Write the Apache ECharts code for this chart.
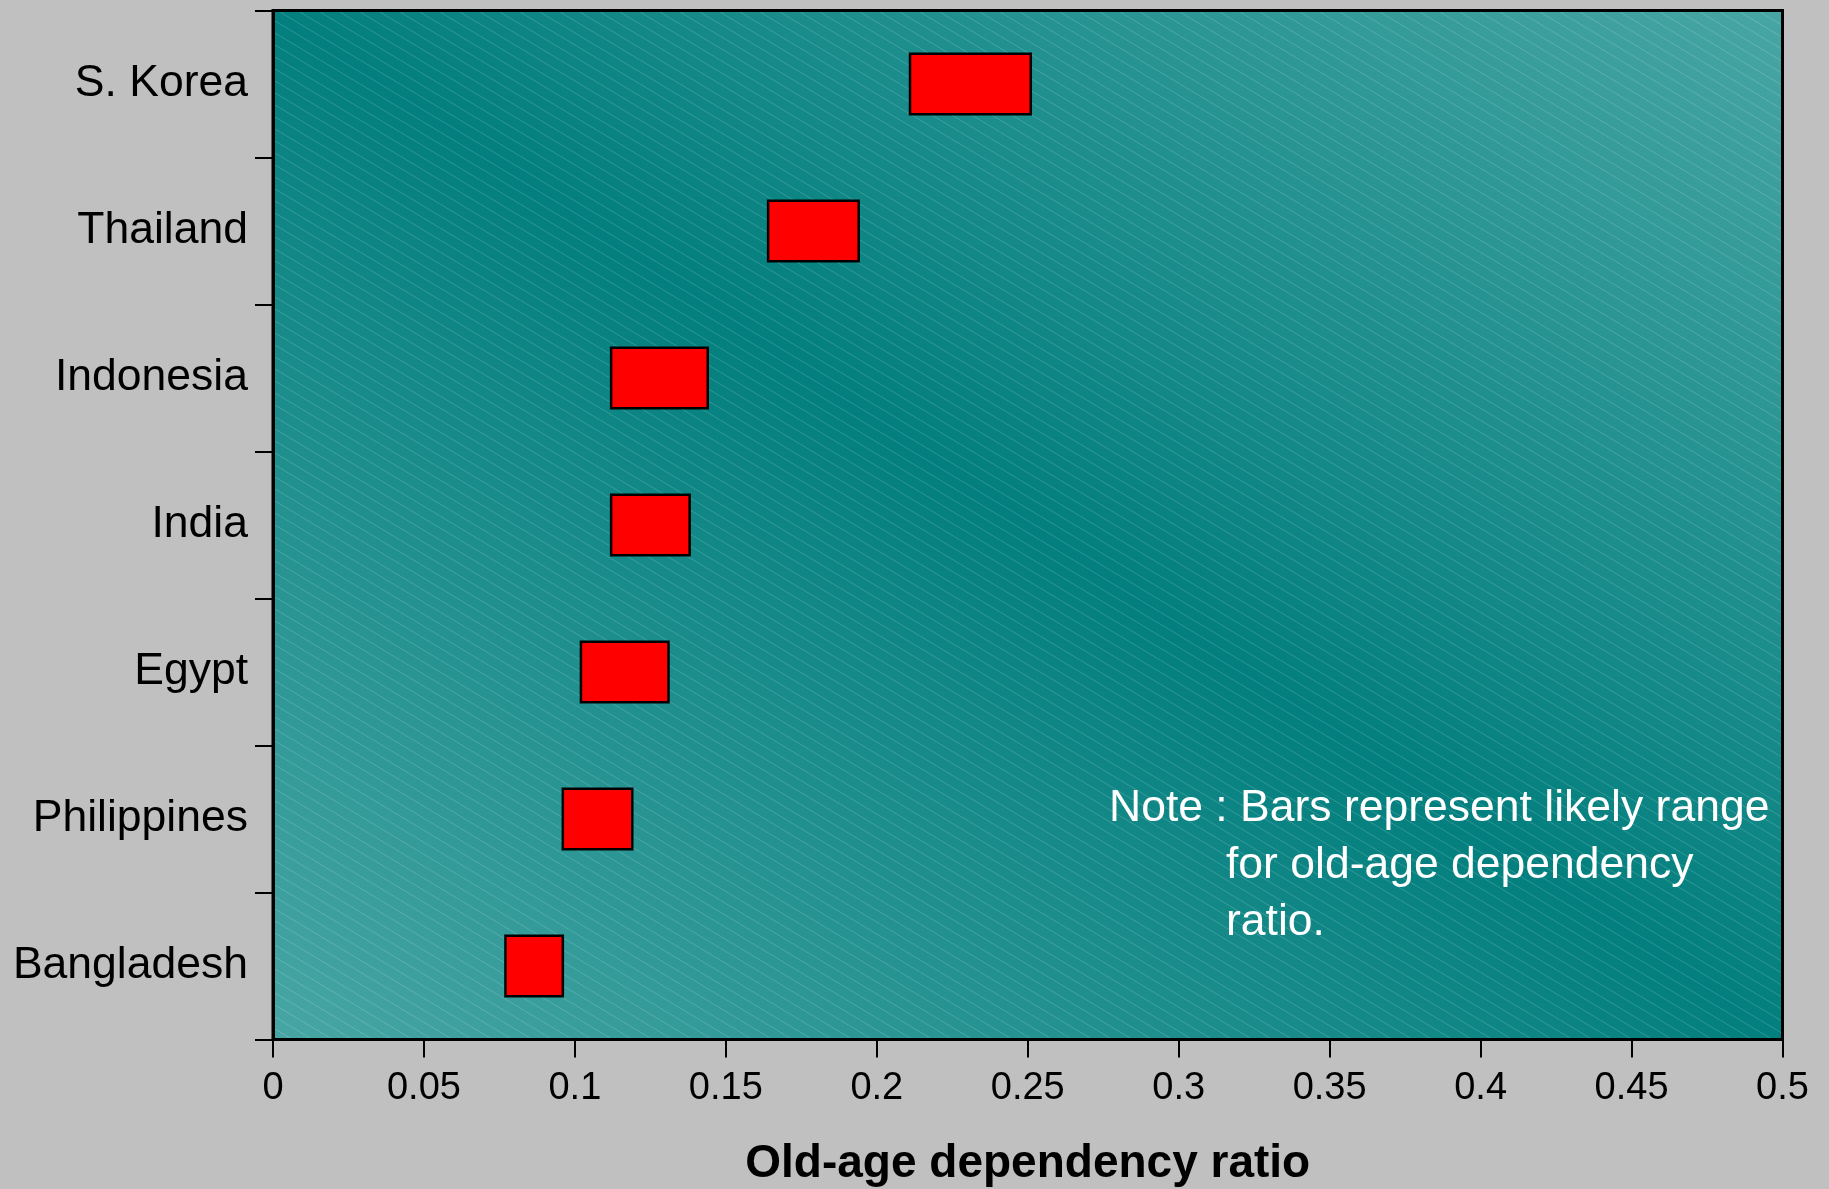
<!DOCTYPE html>
<html>
<head>
<meta charset="utf-8">
<title>Old-age dependency ratio</title>
<script src="https://cdn.jsdelivr.net/npm/echarts@6/dist/echarts.min.js"></script>
<style>
  html, body { margin: 0; padding: 0; background: #c0c0c0; }
  #chart { width: 1829px; height: 1189px; }
</style>
</head>
<body>
<div id="chart"></div>
<script>
// Likely range of the old-age dependency ratio, per country
const countries = ['S. Korea', 'Thailand', 'Indonesia', 'India', 'Egypt', 'Philippines', 'Bangladesh'];
const lowValues = [0.211, 0.164, 0.112, 0.112, 0.102, 0.096, 0.077];
const highValues = [0.251, 0.194, 0.144, 0.138, 0.131, 0.119, 0.096];

const xMin = 0, xMax = 0.5, xStep = 0.05;
const axisTitle = 'Old-age dependency ratio';
const noteLines = ['Note : Bars represent likely range', 'for old-age dependency', 'ratio.'];

const FONT = '"Liberation Sans", Arial, Helvetica, sans-serif';

// plot rectangle (pixels)
const W = 1829, H = 1189;
const G = { left: 273, top: 10.5, right: 46.5, bottom: 149.5 };
const gx = G.left, gy = G.top, gw = W - G.left - G.right, gh = H - G.top - G.bottom;

// diagonal shading: dark along the top-left -> bottom-right diagonal, lighter toward the other corners
const diagLen = Math.sqrt(gw * gw + gh * gh);
const nx = gh / diagLen, ny = -gw / diagLen;
const reach = gw * gh / diagLen;
const cx = gx + gw / 2, cy = gy + gh / 2;
const bgGradient = new echarts.graphic.LinearGradient(
  cx - nx * reach, cy - ny * reach, cx + nx * reach, cy + ny * reach,
  [
    { offset: 0, color: '#47a6a4' },
    { offset: 0.5, color: '#027f7e' },
    { offset: 1, color: '#47a6a4' }
  ],
  true
);

// fine diagonal hatch tile
function hatchTile() {
  const tw = 20, th = 12;
  const c = document.createElement('canvas');
  c.width = tw; c.height = th;
  const ctx = c.getContext('2d');
  ctx.strokeStyle = 'rgba(255,255,255,0.17)';
  ctx.lineWidth = 1;
  for (let k = -1; k <= 1; k++) {
    ctx.beginPath();
    ctx.moveTo(k * tw, 0);
    ctx.lineTo(k * tw + tw, th);
    ctx.stroke();
  }
  return c;
}

const noteFont = '44.5px ' + FONT;

const chart = echarts.init(document.getElementById('chart'), null, { renderer: 'canvas' });

chart.setOption({
  backgroundColor: '#c0c0c0',
  animation: false,
  grid: {
    left: G.left, top: G.top, right: G.right, bottom: G.bottom,
    show: true,
    borderColor: '#000',
    borderWidth: 3,
    backgroundColor: 'transparent',
    containLabel: false,
    outerBoundsMode: 'none'
  },
  graphic: {
    elements: [
      {
        type: 'rect', silent: true, z: -2,
        shape: { x: gx, y: gy, width: gw, height: gh },
        style: { fill: bgGradient }
      },
      {
        type: 'rect', silent: true, z: -1,
        shape: { x: gx, y: gy, width: gw, height: gh },
        style: { fill: { image: hatchTile(), repeat: 'repeat' } }
      },
      // x-axis title, centred under the plot
      {
        type: 'text', silent: true, z: 10,
        x: gx + gw / 2, y: 1164,
        style: {
          text: axisTitle, fill: '#000', font: 'bold 46px ' + FONT,
          align: 'center', verticalAlign: 'middle'
        }
      },
      {
        type: 'text', silent: true, z: 10,
        x: 1109, y: 809,
        style: { text: noteLines[0], fill: '#fff', font: noteFont, verticalAlign: 'middle' }
      },
      {
        type: 'text', silent: true, z: 10,
        x: 1226, y: 866,
        style: { text: noteLines[1], fill: '#fff', font: noteFont, verticalAlign: 'middle' }
      },
      {
        type: 'text', silent: true, z: 10,
        x: 1226, y: 923,
        style: { text: noteLines[2], fill: '#fff', font: noteFont, verticalAlign: 'middle' }
      }
    ]
  },
  xAxis: {
    type: 'value',
    min: xMin, max: xMax, interval: xStep,
    z: 5,
    axisLine: { show: true, lineStyle: { color: '#000', width: 3 } },
    axisTick: { show: true, length: 18, lineStyle: { color: '#000', width: 2 } },
    splitLine: { show: false },
    axisLabel: {
      color: '#000', fontSize: 38, fontFamily: FONT, margin: 30,
      formatter: v => String(+v.toFixed(2))
    }
  },
  yAxis: {
    type: 'category',
    data: countries,
    inverse: true,
    z: 5,
    axisLine: { show: true, lineStyle: { color: '#000', width: 3 } },
    axisTick: { show: true, length: 18, lineStyle: { color: '#000', width: 2 } },
    splitLine: { show: false },
    axisLabel: { color: '#000', fontSize: 44.5, fontFamily: FONT, margin: 25 }
  },
  series: [{
    type: 'custom',
    z: 3,
    encode: { x: [1, 2], y: 0 },
    data: countries.map((c, i) => [i, lowValues[i], highValues[i]]),
    renderItem: (params, api) => {
      const cat = api.value(0);
      const p0 = api.coord([api.value(1), cat]);
      const p1 = api.coord([api.value(2), cat]);
      const h = api.size([0, 1])[1] * 0.41;
      return {
        type: 'rect',
        shape: { x: p0[0], y: p0[1] - h / 2, width: p1[0] - p0[0], height: h },
        style: { fill: '#ff0000', stroke: '#000', lineWidth: 2.5 }
      };
    }
  }]
});
</script>
</body>
</html>
